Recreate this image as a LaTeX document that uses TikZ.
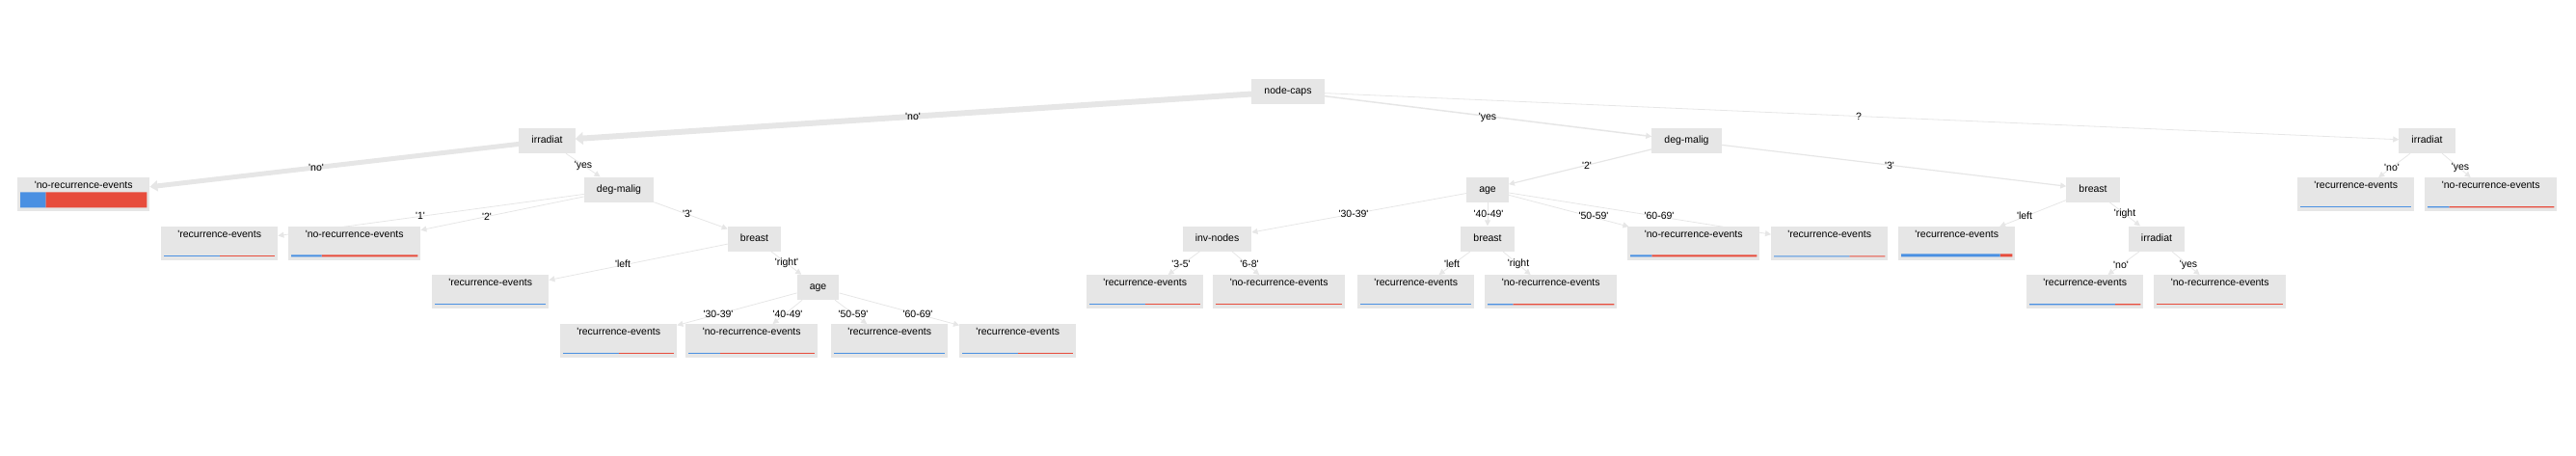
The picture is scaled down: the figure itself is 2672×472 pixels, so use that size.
\documentclass[tikz,border=0pt]{standalone}
\usepackage{fontspec}
\setmainfont{Liberation Sans}
\usepackage{tikz}
\usetikzlibrary{arrows.meta, calc, backgrounds}

\definecolor{nodegray}{HTML}{E6E6E6}
\definecolor{edgegray}{HTML}{E6E6E6}
\definecolor{barblue}{HTML}{4A90E2}
\definecolor{barred}{HTML}{E74C3C}

\newcommand{\tq}{\textquotesingle}
% Balken unter einem Blatt: Name, Anteil blau, Dicke
\newcommand{\leafbar}[3]{%
  \coordinate (#1-l) at ([xshift=3pt, yshift={4pt+0.5*#3}]#1.south west);
  \coordinate (#1-r) at ([xshift=-3pt, yshift={4pt+0.5*#3}]#1.south east);
  \coordinate (#1-m) at ($(#1-l)!#2!(#1-r)$);
  \draw[line width=#3, barred] (#1-m) -- (#1-r);
  \draw[line width=#3, barblue] (#1-l) -- (#1-m);
}

\begin{document}
\begin{tikzpicture}[x=1pt, y=-1pt,
    treefont/.style={font=\fontsize{10.5}{12}\selectfont},
    split/.style={treefont, fill=nodegray, minimum height=26pt, inner xsep=13pt, text height=7.5pt, text depth=2pt},
    leaf/.style={treefont, fill=nodegray, anchor=north west, inner xsep=0pt, inner ysep=2pt, text height=9pt, text depth=22pt},
    rec/.style={leaf, minimum width=121pt},
    norec/.style={leaf, minimum width=137pt},
    branch/.style={draw=edgegray, line width=0.8pt, -{Triangle[length=6pt, width=6pt]}},
    trunk/.style={branch, line width=6pt, -{Triangle[length=8pt, width=13pt]}},
    elabel/.style={treefont, inner sep=0pt}]

  \useasboundingbox (0,0) rectangle (2672,472);

  % Wurzel + innere Knoten
  \node[split] (root) at (1336, 95) {node-caps};
  \node[split] (irr1) at (567.5, 146) {irradiat};
  \node[split] (dm1) at (642, 196.5) {deg-malig};
  \node[split] (br1) at (782.5, 247.5) {breast};
  \node[split] (age1) at (848.5, 298) {age};
  \node[split] (dm2) at (1749.5, 146) {deg-malig};
  \node[split] (age2) at (1543, 196.5) {age};
  \node[split] (inv) at (1262.5, 247.5) {inv-nodes};
  \node[split] (br2) at (1543, 247.5) {breast};
  \node[split] (br3) at (2171, 196.5) {breast};
  \node[split] (irr3) at (2237, 247.5) {irradiat};
  \node[split] (irr2) at (2517.5, 146) {irradiat};

  % Blaetter
  \node[norec] (lf1) at (18, 184) {\tq no-recurrence-events};
  \node[rec] (lf2) at (167, 235) {\tq recurrence-events};
  \node[norec] (lf3) at (299, 235) {\tq no-recurrence-events};
  \node[rec] (lf4) at (448, 285) {\tq recurrence-events};
  \node[rec] (lf5) at (581, 336) {\tq recurrence-events};
  \node[norec] (lf6) at (711, 336) {\tq no-recurrence-events};
  \node[rec] (lf7) at (862, 336) {\tq recurrence-events};
  \node[rec] (lf8) at (995, 336) {\tq recurrence-events};
  \node[rec] (lf9) at (1127, 285) {\tq recurrence-events};
  \node[norec] (lf10) at (1258, 285) {\tq no-recurrence-events};
  \node[rec] (lf11) at (1408, 285) {\tq recurrence-events};
  \node[norec] (lf12) at (1540, 285) {\tq no-recurrence-events};
  \node[norec] (lf13) at (1688, 235) {\tq no-recurrence-events};
  \node[rec] (lf14) at (1837, 235) {\tq recurrence-events};
  \node[rec] (lf15) at (1969, 235) {\tq recurrence-events};
  \node[rec] (lf16) at (2102, 285) {\tq recurrence-events};
  \node[norec] (lf17) at (2234, 285) {\tq no-recurrence-events};
  \node[rec] (lf18) at (2383, 184) {\tq recurrence-events};
  \node[norec] (lf19) at (2515, 184) {\tq no-recurrence-events};

  % Anteile
  \leafbar{lf1}{0.2}{16pt}
  \leafbar{lf2}{0.5}{1pt}
  \leafbar{lf3}{0.24}{2pt}
  \leafbar{lf4}{1}{1.5pt}
  \leafbar{lf5}{0.5}{1pt}
  \leafbar{lf6}{0.25}{1.3pt}
  \leafbar{lf7}{1}{1pt}
  \leafbar{lf8}{0.5}{1pt}
  \leafbar{lf9}{0.5}{1pt}
  \leafbar{lf10}{0}{1.3pt}
  \leafbar{lf11}{1}{1.3pt}
  \leafbar{lf12}{0.2}{1.3pt}
  \leafbar{lf13}{0.17}{2pt}
  \leafbar{lf14}{0.68}{1pt}
  \leafbar{lf15}{0.89}{3pt}
  \leafbar{lf16}{0.77}{1.3pt}
  \leafbar{lf17}{0}{1.3pt}
  \leafbar{lf18}{1}{1.3pt}
  \leafbar{lf19}{0.17}{1.3pt}

  % Kanten (hinter den Knoten)
  \begin{pgfonlayer}{background}
    \draw[trunk] (root) -- (irr1);
    \draw[branch, line width=1.5pt] (root) -- (dm2);
    \draw[branch] (root) -- (irr2);
    \draw[trunk, line width=5pt, -{Triangle[length=8pt, width=11pt]}] (irr1) -- (lf1);
    \draw[branch] (irr1) -- (dm1);
    \draw[branch] (dm1) -- (lf2);
    \draw[branch] (dm1) -- (lf3);
    \draw[branch] (dm1) -- (br1);
    \draw[branch] (br1) -- (lf4);
    \draw[branch] (br1) -- (age1);
    \draw[branch] (age1) -- (lf5);
    \draw[branch] (age1) -- (lf6);
    \draw[branch] (age1) -- (lf7);
    \draw[branch] (age1) -- (lf8);
    \draw[branch, line width=1.2pt] (dm2) -- (age2);
    \draw[branch, line width=1.2pt] (dm2) -- (br3);
    \draw[branch] (age2) -- (inv);
    \draw[branch] (age2) -- (br2);
    \draw[branch] (age2) -- (lf13);
    \draw[branch] (age2) -- (lf14);
    \draw[branch] (inv) -- (lf9);
    \draw[branch] (inv) -- (lf10);
    \draw[branch] (br2) -- (lf11);
    \draw[branch] (br2) -- (lf12);
    \draw[branch] (br3) -- (lf15);
    \draw[branch] (br3) -- (irr3);
    \draw[branch] (irr3) -- (lf16);
    \draw[branch] (irr3) -- (lf17);
    \draw[branch] (irr2) -- (lf18);
    \draw[branch] (irr2) -- (lf19);
  \end{pgfonlayer}

  % Beschriftungen der Kanten
  \node[elabel] (t1) at (947, 121) {\tq no\tq};
  \node[elabel] (t2) at (1543, 122) {\tq yes};
  \node[elabel] (t3) at (1928, 121) {?};
  \node[elabel] (t4) at (328, 174) {\tq no\tq};
  \node[elabel] (t5) at (605, 172) {\tq yes};
  \node[elabel] (t6) at (436, 224) {\tq 1\tq};
  \node[elabel] (t7) at (505, 225) {\tq 2\tq};
  \node[elabel] (t8) at (713, 222) {\tq 3\tq};
  \node[elabel] (t9) at (646, 274) {\tq left};
  \node[elabel] (t10) at (816, 273) {\tq right\tq};
  \node[elabel] (t11) at (745, 326) {\tq 30-39\tq};
  \node[elabel] (t12) at (817, 326) {\tq 40-49\tq};
  \node[elabel] (t13) at (885, 326) {\tq 50-59\tq};
  \node[elabel] (t14) at (952, 326) {\tq 60-69\tq};
  \node[elabel] (t15) at (1646, 172) {\tq 2\tq};
  \node[elabel] (t16) at (1960, 172) {\tq 3\tq};
  \node[elabel] (t17) at (1404, 222) {\tq 30-39\tq};
  \node[elabel] (t18) at (1544, 222) {\tq 40-49\tq};
  \node[elabel] (t19) at (1653, 224) {\tq 50-59\tq};
  \node[elabel] (t20) at (1721, 224) {\tq 60-69\tq};
  \node[elabel] (t21) at (1225, 274) {\tq 3-5\tq};
  \node[elabel] (t22) at (1296, 274) {\tq 6-8\tq};
  \node[elabel] (t23) at (1506, 274) {\tq left};
  \node[elabel] (t24) at (1575, 274) {\tq right};
  \node[elabel] (t25) at (2100, 224) {\tq left};
  \node[elabel] (t26) at (2204, 222) {\tq right};
  \node[elabel] (t27) at (2200, 275) {\tq no\tq};
  \node[elabel] (t28) at (2270, 275) {\tq yes};
  \node[elabel] (t29) at (2481, 174) {\tq no\tq};
  \node[elabel] (t30) at (2552, 174) {\tq yes};
\end{tikzpicture}
\end{document}
